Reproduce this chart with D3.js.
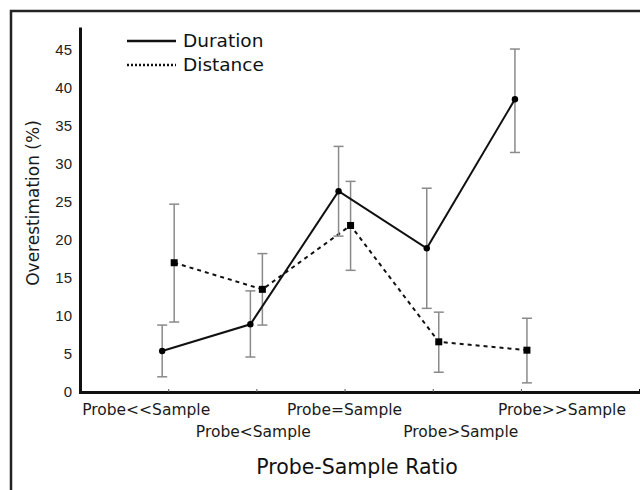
<!DOCTYPE html>
<html lang="en">
  <head>
    <meta charset="utf-8">
    <title>Overestimation by probe-sample ratio</title>
    <script src="https://cdn.jsdelivr.net/npm/d3@7"></script>
    <style>
      body { margin: 0; background: #fff; }
    </style>
  </head>
  <body>
    <script>

      var categories = ["Probe<<Sample", "Probe<Sample", "Probe=Sample", "Probe>Sample", "Probe>>Sample"];

      var durationMean = [5.4, 8.9, 26.4, 18.9, 38.5];
      var durationLow  = [2.0, 4.6, 20.5, 11.0, 31.5];
      var durationHigh = [8.8, 13.3, 32.3, 26.8, 45.1];

      var distanceMean = [17.0, 13.5, 21.9, 6.6, 5.5];
      var distanceLow  = [9.2, 8.8, 16.0, 2.6, 1.2];
      var distanceHigh = [24.7, 18.2, 27.7, 10.5, 9.7];

      var yTicks = [0, 5, 10, 15, 20, 25, 30, 35, 40, 45];

      var svg = d3.select("body").append("svg")
                  .attr("width", 640)
                  .attr("height", 490);

      // outer frame (open on right and bottom)
      svg.append("path")
         .attr("d", "M11,490 V11 H640")
         .attr("fill", "none")
         .attr("stroke", "#222")
         .attr("stroke-width", 2.5);

      var x = d3.scaleLinear().domain([-1, 5.35]).range([80, 640]);
      var y = d3.scaleLinear().domain([0, 48]).range([392, 27]);

      // axes
      var yAxis = svg.append("g")
         .attr("transform", "translate(80,0)")
         .call(d3.axisLeft(y).tickValues(yTicks).tickSize(0).tickPadding(8));
      yAxis.select(".domain").attr("stroke", "#111").attr("stroke-width", 3);
      yAxis.selectAll("text")
           .attr("font-family", "Liberation Sans, Arial, sans-serif")
           .attr("font-size", 15)
           .attr("fill", "#222");

      var xAxis = svg.append("g")
         .attr("transform", "translate(0,392)")
         .call(d3.axisBottom(x).tickValues(d3.range(categories.length)).tickSize(-3).tickFormat(""));
      xAxis.select(".domain").attr("stroke", "#111").attr("stroke-width", 3);
      xAxis.selectAll(".tick line").attr("stroke", "#555");

      // category labels, alternating rows
      var nudge = [-22, -3, 0, 28, 41];
      svg.selectAll("text.cat")
         .data(categories)
         .enter().append("text")
         .attr("class", "cat")
         .attr("x", function(d, i) { return x(i) + nudge[i]; })
         .attr("y", function(d, i) { return i % 2 == 0 ? 415 : 437; })
         .attr("text-anchor", "middle")
         .attr("font-family", "DejaVu Sans, sans-serif")
         .attr("font-size", 15.5)
         .attr("fill", "#1a1a1a")
         .text(function(d) { return d; });

      svg.append("text")
         .attr("x", 357)
         .attr("y", 474)
         .attr("text-anchor", "middle")
         .attr("font-family", "DejaVu Sans, sans-serif")
         .attr("font-size", 20.5)
         .attr("fill", "#111")
         .text("Probe-Sample Ratio");

      svg.append("text")
         .attr("transform", "translate(39,203) rotate(-90)")
         .attr("text-anchor", "middle")
         .attr("font-family", "DejaVu Sans, sans-serif")
         .attr("font-size", 17)
         .attr("fill", "#1a1a1a")
         .text("Overestimation (%)");

      function drawSeries(mean, low, high, dx, dash, marker) {
        var g = svg.append("g");
        var px = function(i) { return x(i) + dx; };

        g.selectAll("line.bar")
         .data(mean)
         .enter().append("line")
         .attr("x1", function(d, i) { return px(i); })
         .attr("x2", function(d, i) { return px(i); })
         .attr("y1", function(d, i) { return y(low[i]); })
         .attr("y2", function(d, i) { return y(high[i]); })
         .attr("stroke", "#8a8a8a")
         .attr("stroke-width", 1.5);

        [low, high].forEach(function(arr) {
          g.selectAll(null)
           .data(arr)
           .enter().append("line")
           .attr("x1", function(d, i) { return px(i) - 5; })
           .attr("x2", function(d, i) { return px(i) + 5; })
           .attr("y1", function(d) { return y(d); })
           .attr("y2", function(d) { return y(d); })
           .attr("stroke", "#8a8a8a")
           .attr("stroke-width", 1.5);
        });

        var line = d3.line()
          .x(function(d, i) { return px(i); })
          .y(function(d) { return y(d); });

        g.append("path")
         .datum(mean)
         .attr("d", line)
         .attr("fill", "none")
         .attr("stroke", "#111")
         .attr("stroke-width", 2)
         .attr("stroke-dasharray", dash);

        if (marker == "circle") {
          g.selectAll("circle")
           .data(mean)
           .enter().append("circle")
           .attr("cx", function(d, i) { return px(i); })
           .attr("cy", function(d) { return y(d); })
           .attr("r", 3.2)
           .attr("fill", "#000");
        } else {
          g.selectAll("rect")
           .data(mean)
           .enter().append("rect")
           .attr("x", function(d, i) { return px(i) - 3.5; })
           .attr("y", function(d) { return y(d) - 3.5; })
           .attr("width", 7)
           .attr("height", 7)
           .attr("fill", "#000");
        }
      }

      drawSeries(distanceMean, distanceLow, distanceHigh, 6, "4,4", "square");
      drawSeries(durationMean, durationLow, durationHigh, -6, null, "circle");

      // legend
      var legend = [
        { name: "Duration", dash: null, y: 41 },
        { name: "Distance", dash: "2,2", y: 65 }
      ];
      var lg = svg.selectAll("g.legend")
         .data(legend)
         .enter().append("g")
         .attr("class", "legend");
      lg.append("line")
        .attr("x1", 127).attr("x2", 176)
        .attr("y1", function(d) { return d.y; })
        .attr("y2", function(d) { return d.y; })
        .attr("stroke", "#111")
        .attr("stroke-width", 2.5)
        .attr("stroke-dasharray", function(d) { return d.dash; });
      lg.append("text")
        .attr("x", 183)
        .attr("y", function(d) { return d.y; })
        .attr("dy", "0.35em")
        .attr("font-family", "DejaVu Sans, sans-serif")
        .attr("font-size", 18.5)
        .attr("fill", "#111")
        .text(function(d) { return d.name; });

    </script>
  </body>
</html>
